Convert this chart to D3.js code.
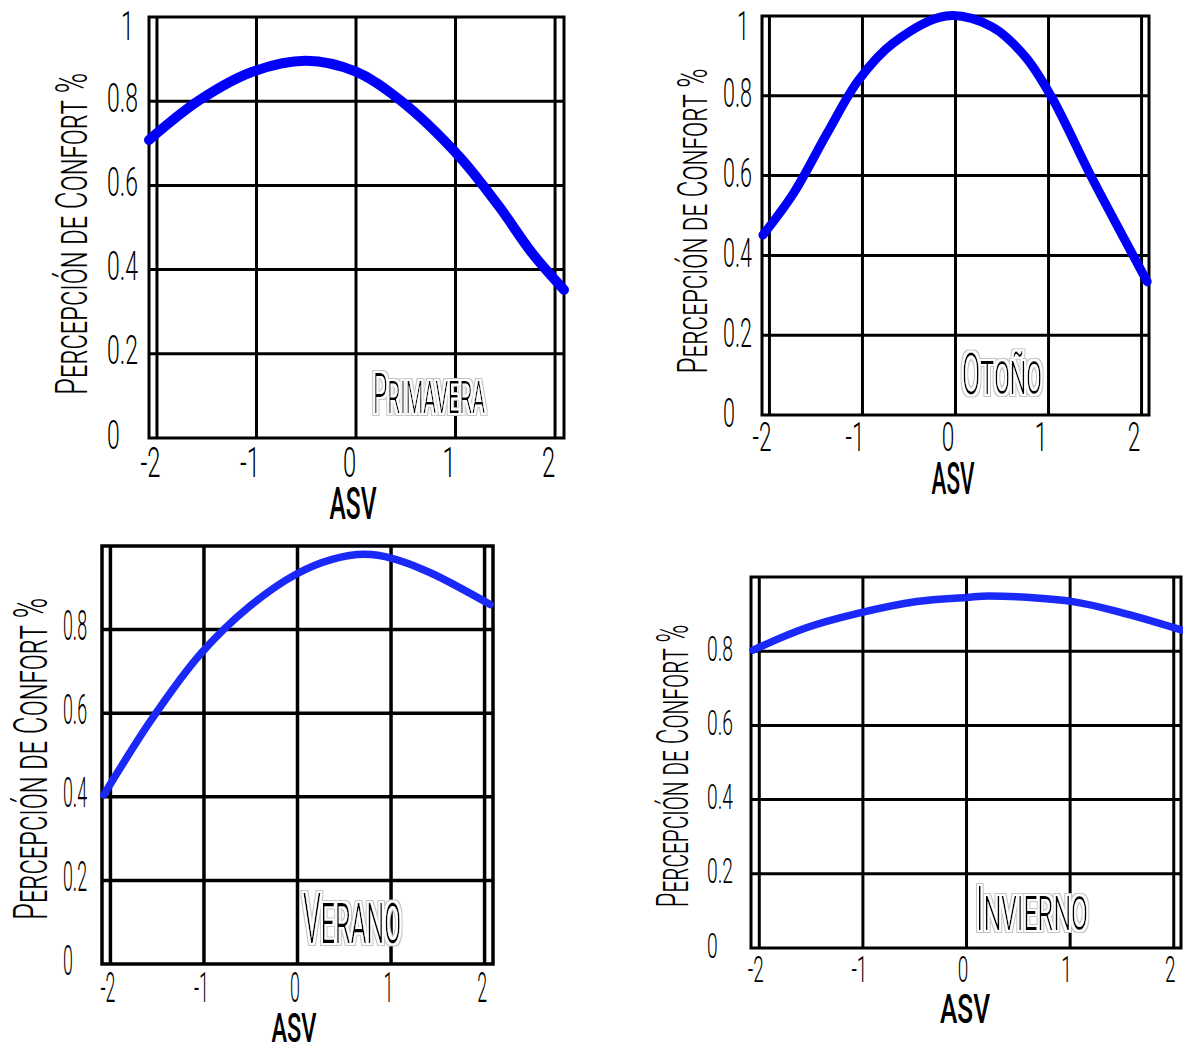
<!DOCTYPE html>
<html><head><meta charset="utf-8">
<script src="https://cdn.jsdelivr.net/npm/d3@7"></script>
<style>
body{margin:0;background:#fff}
svg{display:block;background:#fff}
text{font-family:Roboto,"DejaVu Sans",sans-serif;fill:#000}
</style>
</head><body>
<svg id="c" width="1183" height="1053"></svg>
<script>
// ---------- data ----------
const asvTicks = [-2, -1, 0, 1, 2];
const comfortTicksFull = [0, 0.2, 0.4, 0.6, 0.8, 1];
const comfortTicksShort = [0, 0.2, 0.4, 0.6, 0.8];
const comfortGrid = [0.2, 0.4, 0.6, 0.8];
const seasonNames = ["Primavera", "Otoño", "Verano", "Invierno"];
const xTitle = "ASV";
const yTitle = "Percepción de Confort %";

const primaveraASV     = [-2.08, -1.57, -1.04, -0.50, 0.00, 0.44, 1.04, 1.44, 1.77, 2.09];
const primaveraComfort = [0.708, 0.803, 0.870, 0.896, 0.870, 0.803, 0.668, 0.549, 0.439, 0.352];

const otonoASV     = [-2.07, -1.74, -1.38, -1.04, -0.67, -0.10, 0.39, 0.75, 1.03, 1.46, 1.82, 2.06];
const otonoComfort = [0.451, 0.556, 0.706, 0.840, 0.932, 1.000, 0.973, 0.898, 0.798, 0.597, 0.439, 0.334];

const veranoASV     = [-2.07, -1.56, -1.04, -0.51, -0.02, 0.37, 0.72, 1.02, 1.42, 2.06];
const veranoComfort = [0.405, 0.585, 0.741, 0.856, 0.932, 0.968, 0.980, 0.970, 0.936, 0.860];

const inviernoASV     = [-2.06, -1.56, -1.05, -0.48, 0.00, 0.22, 1.04, 1.52, 2.08];
const inviernoComfort = [0.803, 0.862, 0.902, 0.934, 0.945, 0.949, 0.933, 0.902, 0.857];

// ---------- layout ----------
const panels = [
  {season: seasonNames[0], asv: primaveraASV, comfort: primaveraComfort, yTicks: comfortTicksFull,
   frame: {l: 149, r: 564, t: 17, b: 438}, dom: [-2.08, 2.09], color: "#0000fa", lw: 10, gw: 3,
   yLab: {x: 107, h: 29, w: 31, dy: 10}, xLab: {h: 30, w: 20, base: 477, shift: -7},
   asvT: {x: 353, base: 519, h: 31, w: 47},
   yT: {x: 87, y: 234, h: 32, len: 322},
   sT: {x: 373, base: 413, h: 40, w: 112}},
  {season: seasonNames[1], asv: otonoASV, comfort: otonoComfort, yTicks: comfortTicksFull,
   frame: {l: 762, r: 1149, t: 16, b: 415}, dom: [-2.08, 2.08], color: "#0000fa", lw: 9, gw: 3,
   yLab: {x: 723, h: 29, w: 29, dy: 11}, xLab: {h: 29, w: 19, base: 451, shift: -8},
   asvT: {x: 953, base: 494, h: 31, w: 43},
   yT: {x: 707, y: 221, h: 30, len: 305},
   sT: {x: 962, base: 394, h: 41, w: 80}},
  {season: seasonNames[2], asv: veranoASV, comfort: veranoComfort, yTicks: comfortTicksShort,
   frame: {l: 102, r: 493, t: 546, b: 964}, dom: [-2.09, 2.09], color: "#1a28f8", lw: 7.5, gw: 3.5,
   yLab: {x: 63, h: 30, w: 24, dy: 10}, xLab: {h: 30, w: 15, base: 1002, shift: -3},
   asvT: {x: 294, base: 1042, h: 29, w: 45},
   yT: {x: 47, y: 759, h: 34, len: 322},
   sT: {x: 303, base: 943, h: 50, w: 98}},
  {season: seasonNames[3], asv: inviernoASV, comfort: inviernoComfort, yTicks: comfortTicksShort,
   frame: {l: 751, r: 1181, t: 577, b: 948}, dom: [-2.08, 2.07], color: "#1a28f8", lw: 7.5, gw: 3,
   yLab: {x: 707, h: 25, w: 26, dy: 9}, xLab: {h: 26, w: 16, base: 982, shift: -4},
   asvT: {x: 965, base: 1023, h: 29, w: 50},
   yT: {x: 688, y: 766, h: 31, len: 283},
   sT: {x: 976, base: 930, h: 43, w: 112}}
];

const CAP = 0.711;
const svg = d3.select("#c");

// halo filter for season labels
const defs = svg.append("defs");
const f = defs.append("filter").attr("id", "halo")
  .attr("x", "-20%").attr("y", "-40%").attr("width", "140%").attr("height", "180%");
f.append("feMorphology").attr("in", "SourceAlpha").attr("operator", "dilate").attr("radius", 3.2).attr("result", "d1");
f.append("feFlood").attr("flood-color", "#c4c4c4").attr("result", "c1");
f.append("feComposite").attr("in", "c1").attr("in2", "d1").attr("operator", "in").attr("result", "g1");
f.append("feMorphology").attr("in", "SourceAlpha").attr("operator", "dilate").attr("radius", 2.2).attr("result", "d2");
f.append("feFlood").attr("flood-color", "#ffffff").attr("result", "c2");
f.append("feComposite").attr("in", "c2").attr("in2", "d2").attr("operator", "in").attr("result", "g2");
const mg = f.append("feMerge");
["g1", "g2", "SourceGraphic"].forEach(n => mg.append("feMergeNode").attr("in", n));

const fmt = d => String(d);

panels.forEach(p => {
  const g = svg.append("g");
  const fr = p.frame;
  const x = d3.scaleLinear().domain(p.dom).range([fr.l, fr.r]);
  const y = d3.scaleLinear().domain([0, 1]).range([fr.b, fr.t]);

  // grid
  g.append("g").selectAll("line").data(asvTicks).join("line")
    .attr("x1", d => x(d)).attr("x2", d => x(d)).attr("y1", fr.t).attr("y2", fr.b)
    .attr("stroke", "#000").attr("stroke-width", p.gw);
  g.append("g").selectAll("line").data(comfortGrid).join("line")
    .attr("x1", fr.l).attr("x2", fr.r).attr("y1", d => y(d)).attr("y2", d => y(d))
    .attr("stroke", "#000").attr("stroke-width", p.gw);
  g.append("rect").attr("x", fr.l).attr("y", fr.t).attr("width", fr.r - fr.l).attr("height", fr.b - fr.t)
    .attr("fill", "none").attr("stroke", "#000").attr("stroke-width", p.gw);

  // y axis labels
  const ya = g.append("g").attr("transform", `translate(${p.yLab.x},0)`)
    .call(d3.axisLeft(y).tickValues(p.yTicks).tickFormat(fmt).tickSize(0))
    .attr("font-family", null).attr("font-size", null);
  ya.select(".domain").remove();
  const yTexts = ya.selectAll("text")
    .attr("x", 0).attr("dy", null).attr("y", d => d === 1 ? p.yLab.dy + 12 : p.yLab.dy)
    .attr("text-anchor", "start").attr("font-size", p.yLab.h / CAP).attr("font-weight", 300)
    .attr("fill", "#000");
  let ref = yTexts.filter(d => d === 0.8).node();
  const ysx = p.yLab.w / ref.getComputedTextLength();
  yTexts.attr("transform", d => d === 1 ? `translate(14,0) scale(${ysx},1)` : `scale(${ysx},1)`);

  // x axis labels
  const xa = g.append("g").attr("transform", `translate(0,${p.xLab.base})`)
    .call(d3.axisBottom(x).tickValues(asvTicks).tickFormat(fmt).tickSize(0))
    .attr("font-family", null).attr("font-size", null);
  xa.select(".domain").remove();
  const xTexts = xa.selectAll("text")
    .attr("y", 0).attr("dy", null).attr("text-anchor", "middle")
    .attr("font-size", p.xLab.h / CAP).attr("font-weight", 300).attr("fill", "#000");
  ref = xTexts.filter(d => d === -2).node();
  const xsx = p.xLab.w / ref.getComputedTextLength();
  xTexts.attr("transform", `translate(${p.xLab.shift},0) scale(${xsx},1)`);

  // ASV title
  const at = g.append("text").text(xTitle).attr("text-anchor", "middle")
    .attr("font-size", p.asvT.h / CAP).attr("font-weight", 500);
  const asx = p.asvT.w / at.node().getComputedTextLength();
  at.attr("transform", `translate(${p.asvT.x},${p.asvT.base}) scale(${asx},1)`);

  // Y title
  const yt = g.append("text").text(yTitle).attr("text-anchor", "middle")
    .attr("font-size", p.yT.h / CAP).attr("font-weight", 300).style("font-variant", "small-caps");
  const ytsx = p.yT.len / yt.node().getComputedTextLength();
  yt.attr("transform", `translate(${p.yT.x},${p.yT.y}) rotate(-90) scale(${ytsx},1)`);

  // season label
  const sg = g.append("g").attr("filter", "url(#halo)");
  const st = sg.append("text").text(p.season)
    .attr("font-size", p.sT.h / CAP).attr("font-weight", 300).style("font-variant", "small-caps");
  const ssx = p.sT.w / st.node().getComputedTextLength();
  st.attr("transform", `translate(${p.sT.x},${p.sT.base}) scale(${ssx},1)`);

  // curve
  const pts = p.asv.map((a, i) => [a, p.comfort[i]]);
  g.append("path").datum(pts)
    .attr("d", d3.line().x(d => x(d[0])).y(d => y(d[1])).curve(d3.curveCatmullRom.alpha(0.5)))
    .attr("fill", "none").attr("stroke", p.color).attr("stroke-width", p.lw)
    .attr("stroke-linecap", "round").attr("stroke-linejoin", "round");
});
</script>
</body></html>
